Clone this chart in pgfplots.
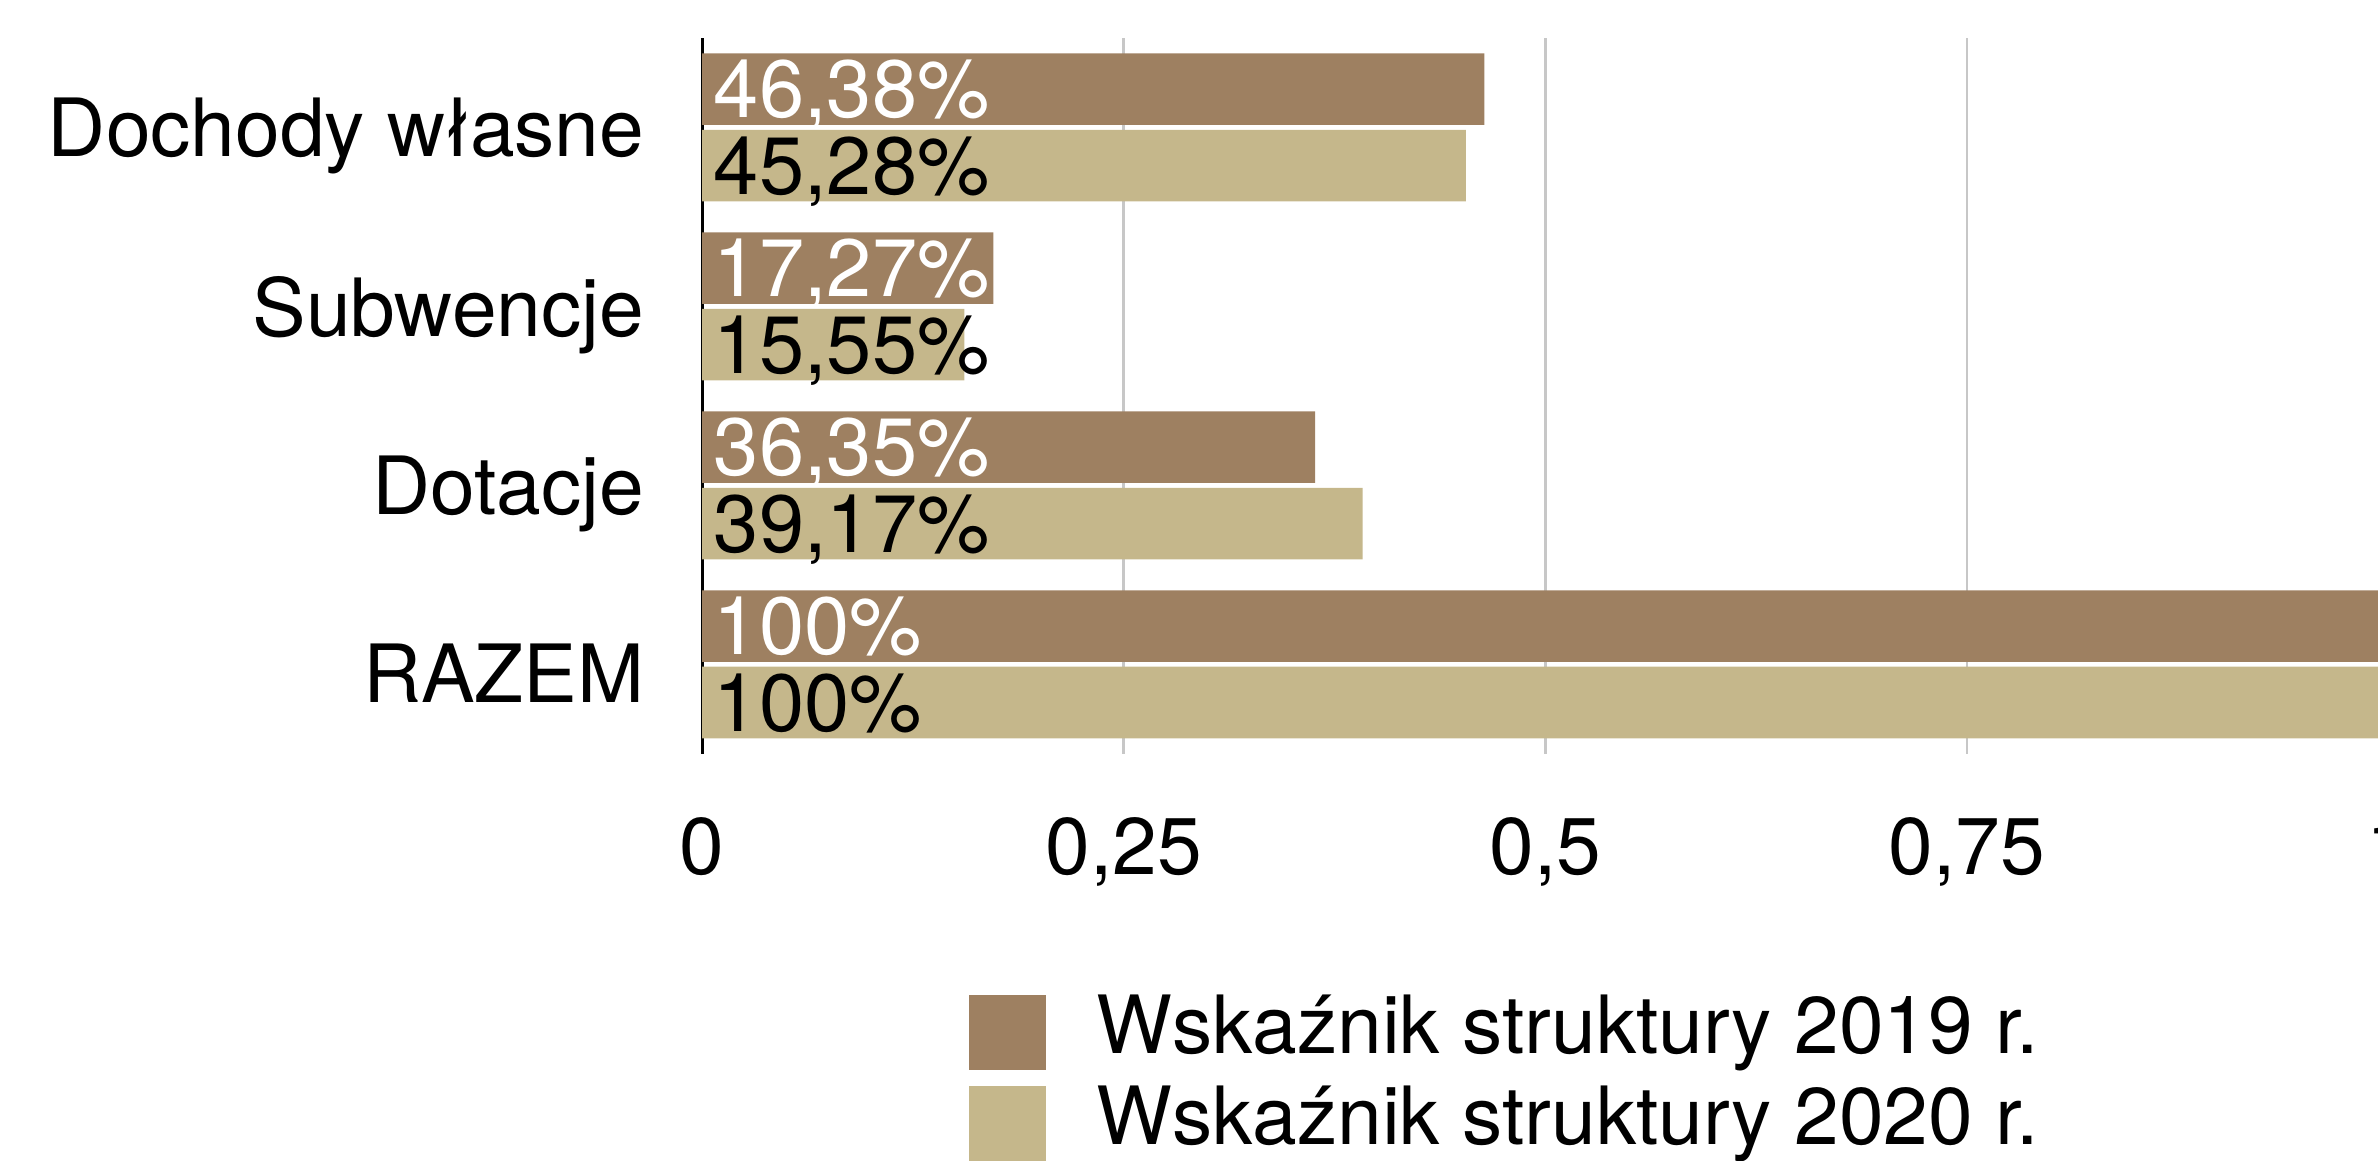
\documentclass[border=0pt]{standalone}
\usepackage{pgfplots}
\pgfplotsset{compat=1.18}
\usepackage{fontspec}
\setmainfont{TeX Gyre Heros}
\definecolor{c2019}{RGB}{158,128,97}
\definecolor{c2020}{RGB}{197,183,139}
\newcommand{\lbl}{\fontsize{13.25}{15}\selectfont}
\newcommand{\vlbl}{\fontsize{13.4}{15}\selectfont}
\pgfplotsset{sq legend/.style={legend image code/.code={%
    \fill[##1,draw=none] (0pt,-6.25pt) rectangle (12.75pt,6.25pt);}}}
\begin{document}
\begin{tikzpicture}
\path[use as bounding box, clip] (-115.75pt,-67pt) rectangle (276.25pt,124.25pt);
\begin{axis}[
    at={(0pt,0pt)}, anchor=south west,
    scale only axis, width=278pt, height=118pt,
    xbar, bar width=11.8pt,
    xmin=0, xmax=1, ymin=-0.5, ymax=3.5,
    xtick={0,0.25,0.5,0.75,1},
    ytick={0,1,2,3},
    yticklabels={RAZEM,Dotacje,Subwencje,Dochody własne},
    axis y line*=left, axis x line*=bottom,
    x axis line style={draw=none},
    y axis line style={-, black, line width=0.45pt},
    major tick length=0pt,
    xmajorgrids, grid style={draw=black!22, line width=0.45pt},
    /pgf/number format/use comma,
    /pgf/number format/assume math mode=true,
    tick label style={font=\lbl},
    xticklabel style={yshift=-7pt},
    yticklabel style={xshift=-6pt, yshift=-1.4pt},
    legend style={at={(axis description cs:0.1574,-0.3347)}, anchor=north west,
        draw=none, fill=none, inner sep=0pt, font=\lbl, row sep=2.5pt,
        nodes={inner sep=0pt, text height=9.5pt, text depth=2.5pt},
        /tikz/every odd column/.append style={column sep=8.25pt}},
    legend cell align=left,
]
\addplot[fill=c2019, draw=none, bar shift=6.3pt, sq legend]
    coordinates {(0.4638,3) (0.1727,2) (0.3635,1) (1.0,0)};
\addlegendentry{Wskaźnik struktury 2019 r.}
\addplot[fill=c2020, draw=none, bar shift=-6.3pt, sq legend]
    coordinates {(0.4528,3) (0.1555,2) (0.3917,1) (1.0,0)};
\addlegendentry{Wskaźnik struktury 2020 r.}
% value labels at the left end of each bar
\addplot[draw=none, fill=none, bar shift=6.3pt, forget plot,
    nodes near coords, point meta=explicit symbolic,
    every node near coord/.append style={anchor=base west, inner sep=0pt,
        xshift=1.75pt, yshift=-4.7pt, text=white, font=\vlbl}]
    coordinates {(0,3) [46,38\%] (0,2) [17,27\%] (0,1) [36,35\%] (0,0) [100\%]};
\addplot[draw=none, fill=none, bar shift=-6.3pt, forget plot,
    nodes near coords, point meta=explicit symbolic,
    every node near coord/.append style={anchor=base west, inner sep=0pt,
        xshift=1.75pt, yshift=-4.7pt, text=black, font=\vlbl}]
    coordinates {(0,3) [45,28\%] (0,2) [15,55\%] (0,1) [39,17\%] (0,0) [100\%]};
\end{axis}
\end{tikzpicture}
\end{document}
